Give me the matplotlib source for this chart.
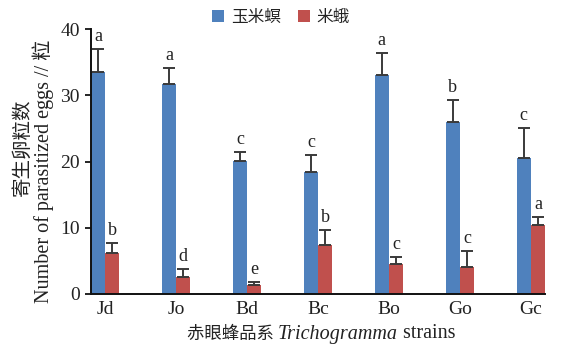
import matplotlib
matplotlib.use("Agg")
import matplotlib.pyplot as plt
import numpy as np
from matplotlib.patches import Patch
from matplotlib.offsetbox import TextArea, HPacker, AnchoredOffsetbox

# Parasitized eggs per strain on two host species (mean + SE)
strains = ["Jd", "Jo", "Bd", "Bc", "Bo", "Go", "Gc"]
corn_borer = [33.5, 31.7, 20.1, 18.4, 33.1, 26.0, 20.5]
corn_borer_se = [3.5, 2.4, 1.3, 2.6, 3.3, 3.3, 4.5]
rice_moth = [6.2, 2.6, 1.3, 7.35, 4.5, 4.1, 10.4]
rice_moth_se = [1.45, 1.2, 0.55, 2.3, 1.1, 2.4, 1.2]
corn_borer_letters = ["a", "a", "c", "c", "a", "b", "c"]
rice_moth_letters = ["b", "d", "e", "b", "c", "c", "a"]
series_names = ["玉米螟", "米蛾"]
y_ticks = [0, 10, 20, 30, 40]

BLUE = "#4F81BD"
RED = "#C0504D"
ERR = "#3a3a3a"
TXT = "#222222"
SERIF = ["Liberation Serif", "Noto Sans CJK SC"]
CJK = ["Noto Sans CJK SC", "DejaVu Sans"]

fig = plt.figure(figsize=(5.78, 3.46), dpi=100)
ax = fig.add_axes([91 / 578, 1 - 294 / 346, 454 / 578, 265 / 346])

x = np.arange(len(strains))
w = 0.2
zeros = np.zeros(len(strains))

ax.bar(x - w / 2, corn_borer, width=w, color=BLUE, zorder=2)
ax.bar(x + w / 2, rice_moth, width=w, color=RED, zorder=2)
ax.errorbar(x - w / 2, corn_borer, yerr=[zeros, corn_borer_se], fmt="none",
            ecolor=ERR, elinewidth=1.4, capsize=4, capthick=1.4, zorder=3)
ax.errorbar(x + w / 2, rice_moth, yerr=[zeros, rice_moth_se], fmt="none",
            ecolor=ERR, elinewidth=1.4, capsize=4, capthick=1.4, zorder=3)

for xi, v, e, lab in zip(x - w / 2, corn_borer, corn_borer_se, corn_borer_letters):
    ax.annotate(lab, (xi, v + e), xytext=(0, 3), textcoords="offset points",
                ha="center", va="bottom", fontsize=13, family=SERIF, color=TXT)
for xi, v, e, lab in zip(x + w / 2, rice_moth, rice_moth_se, rice_moth_letters):
    ax.annotate(lab, (xi, v + e), xytext=(0, 3), textcoords="offset points",
                ha="center", va="bottom", fontsize=13, family=SERIF, color=TXT)

ax.set_xlim(-0.2, 6.2)
ax.set_ylim(0, 40)
ax.set_yticks(y_ticks)
ax.set_yticklabels([str(t) for t in y_ticks], family=SERIF, fontsize=14, color=TXT)
ax.set_xticks(x)
ax.set_xticklabels(strains, family=SERIF, fontsize=14, color=TXT)
ax.tick_params(axis="y", direction="out", length=4, width=1.2, pad=4)
ax.tick_params(axis="x", length=0, pad=5)
for s in ["top", "right"]:
    ax.spines[s].set_visible(False)
for s in ["left", "bottom"]:
    ax.spines[s].set_linewidth(1.4)
    ax.spines[s].set_color("#111111")

# y-axis title in two lines
fig.text(22 / 578, 1 - 147 / 346, "寄生卵粒数", rotation=90, ha="center",
         va="center", fontsize=14, family=CJK, color=TXT)
fig.text(43 / 578, 1 - 171 / 346, "Number of parasitized eggs // 粒",
         rotation=90, ha="center", va="center", fontsize=14.5, family=SERIF,
         color=TXT)

# x-axis title with italic genus name
parts = HPacker(children=[
    TextArea("赤眼蜂品系 ", textprops=dict(fontsize=12.5, family=CJK, color=TXT)),
    TextArea("Trichogramma", textprops=dict(fontsize=14.5, family=SERIF,
                                            style="italic", color=TXT)),
    TextArea(" strains", textprops=dict(fontsize=14.5, family=SERIF, color=TXT)),
], align="baseline", pad=0, sep=0)
box = AnchoredOffsetbox(loc="center", child=parts, frameon=False, pad=0,
                        bbox_to_anchor=(321 / 578, 1 - 334 / 346),
                        bbox_transform=fig.transFigure, borderpad=0)
fig.add_artist(box)

handles = [Patch(facecolor=BLUE, label=series_names[0]),
           Patch(facecolor=RED, label=series_names[1])]
leg = fig.legend(handles=handles, loc="center", ncol=2, frameon=False,
                 bbox_to_anchor=(281 / 578, 1 - 17 / 346),
                 prop=dict(family=CJK, size=12),
                 handlelength=0.75, handleheight=0.75, handletextpad=0.4,
                 columnspacing=1.0)
for t in leg.get_texts():
    t.set_color(TXT)

fig.savefig("out.png", dpi=100, facecolor="white")
